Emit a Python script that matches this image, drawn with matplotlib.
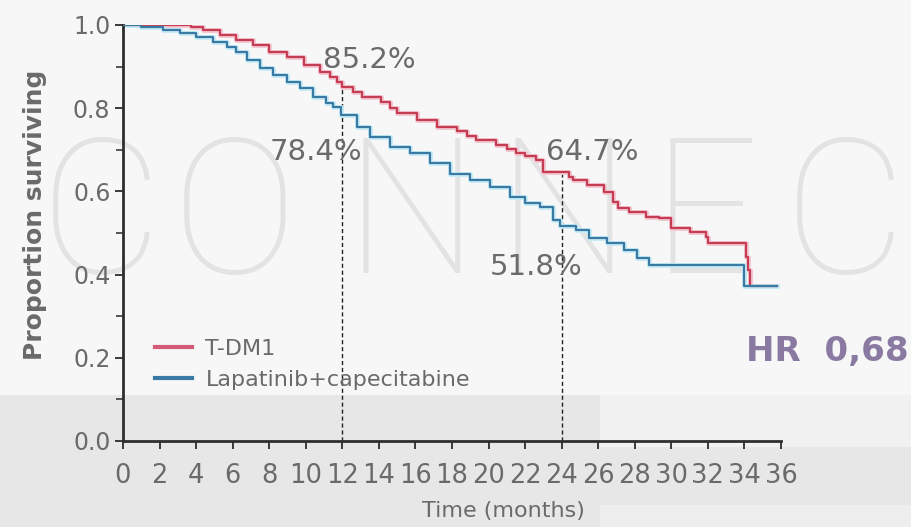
import matplotlib
matplotlib.use("Agg")
import matplotlib.pyplot as plt
from matplotlib.patches import Rectangle
from matplotlib.lines import Line2D

# Kaplan-Meier estimates (step-post), months vs proportion surviving
tdm1_time = [0.0, 3.7, 4.4, 5.3, 6.2, 7.1, 8.0, 9.0, 9.9, 10.8, 11.3, 11.7, 12.0,
             12.6, 13.1, 14.1, 14.6, 15.0, 16.1, 17.2, 18.3, 18.8, 19.3, 20.4,
             21.0, 21.5, 22.0, 22.6, 23.0, 24.4, 24.6, 25.4, 26.3, 26.8, 27.1,
             27.7, 28.6, 29.3, 30.0, 31.0, 31.9, 32.0, 34.1, 34.2, 34.3, 35.8]
tdm1_surv = [1.000, 0.994, 0.988, 0.976, 0.964, 0.952, 0.936, 0.924, 0.904, 0.888,
             0.876, 0.864, 0.852, 0.840, 0.828, 0.816, 0.800, 0.788, 0.772, 0.756,
             0.744, 0.733, 0.724, 0.712, 0.702, 0.692, 0.684, 0.675, 0.647, 0.635,
             0.627, 0.615, 0.599, 0.575, 0.560, 0.551, 0.539, 0.536, 0.512, 0.503,
             0.491, 0.476, 0.443, 0.411, 0.373, 0.373]

lapcap_time = [0.0, 1.0, 2.2, 3.1, 4.0, 4.9, 5.7, 6.2, 6.8, 7.5, 8.2, 8.95, 9.7,
               10.4, 11.1, 11.5, 11.9, 12.8, 13.5, 14.6, 15.7, 16.8, 17.9, 19.0,
               20.1, 21.2, 22.0, 22.8, 23.5, 23.9, 24.8, 25.5, 26.5, 27.4, 28.1,
               28.8, 34.0, 35.8]
lapcap_surv = [1.000, 0.996, 0.988, 0.980, 0.972, 0.960, 0.948, 0.936, 0.916, 0.897,
               0.880, 0.864, 0.848, 0.828, 0.812, 0.804, 0.784, 0.756, 0.731, 0.707,
               0.692, 0.668, 0.643, 0.627, 0.611, 0.587, 0.573, 0.563, 0.531, 0.518,
               0.507, 0.487, 0.475, 0.459, 0.439, 0.423, 0.373, 0.373]

# Landmark survival rates
landmark_months = [12, 24]
tdm1_landmark = [0.852, 0.647]
lapcap_landmark = [0.784, 0.518]

series_labels = ["T-DM1", "Lapatinib+capecitabine"]
x_ticks = list(range(0, 37, 2))
y_ticks = [0.0, 0.2, 0.4, 0.6, 0.8, 1.0]
hazard_ratio = "HR  0,68"

RED = "#c63c52"
BLUE = "#3b79a5"
GREY_TXT = "#6a6a6a"

W, H = 912, 527
fig = plt.figure(figsize=(W / 100, H / 100), dpi=100, facecolor="#f7f7f7")

# background: grey band at the bottom and a faint logotype
bg = fig.add_axes([0, 0, 1, 1], zorder=-10)
bg.set_xlim(0, W)
bg.set_ylim(0, H)
bg.axis("off")
bg.add_patch(Rectangle((0, 0), 600, H - 395, color="#e7e7e7", lw=0))
bg.add_patch(Rectangle((600, H - 505), W - 600, 505 - 447, color="#e7e7e7", lw=0))
bg.add_patch(Rectangle((600, 0), W - 600, H - 505, color="#eeeeee", lw=0))
bg.add_patch(Rectangle((600, H - 447), W - 600, 447 - 395, color="#f1f1f1", lw=0))
for ch, xl in zip("CONNEC", [40, 172, 345, 497, 652, 784]):
    bg.text(xl, H - 273, ch, fontsize=136, family=["Roboto", "DejaVu Sans"],
            fontweight="light", color="#e3e3e3", ha="left", va="baseline")

ax = fig.add_axes([123 / W, 1 - 441 / H, (781 - 123) / W, (441 - 25) / H])
ax.patch.set_alpha(0)

# soft halo under each curve, then the curves
ax.step(tdm1_time, tdm1_surv, where="post", color="#f2c9d3", lw=3.6, zorder=2)
ax.step(lapcap_time, lapcap_surv, where="post", color="#c8ecf5", lw=3.6, zorder=2)
ax.step(tdm1_time, tdm1_surv, where="post", color=RED, lw=1.6, zorder=3)
ax.step(lapcap_time, lapcap_surv, where="post", color=BLUE, lw=1.6, zorder=4)

# dashed landmark lines
for m, v in zip(landmark_months, tdm1_landmark):
    ax.vlines(m, 0, v, colors="#222222", linestyles=(0, (3, 2)), lw=1.0, zorder=1)

pct_font = dict(fontsize=21, color=GREY_TXT, ha="center", va="baseline")
ax.text(13.45, 0.897, f"{tdm1_landmark[0] * 100:.1f}%", **pct_font)
ax.text(10.55, 0.675, f"{lapcap_landmark[0] * 100:.1f}%", **pct_font)
ax.text(25.7, 0.675, f"{tdm1_landmark[1] * 100:.1f}%", **pct_font)
ax.text(22.6, 0.399, f"{lapcap_landmark[1] * 100:.1f}%", **pct_font)

ax.set_xlim(0, 36)
ax.set_ylim(0, 1.0)
ax.set_xticks(x_ticks)
ax.set_xticklabels([str(t) for t in x_ticks], fontsize=18.5)
ax.set_yticks(y_ticks)
ax.set_yticklabels([f"{t:.1f}" for t in y_ticks], fontsize=17)
ax.set_yticks([0.1, 0.3, 0.5, 0.7, 0.9], minor=True)
for s in ["top", "right"]:
    ax.spines[s].set_visible(False)
for s in ["left", "bottom"]:
    ax.spines[s].set_color("#2e2e2e")
    ax.spines[s].set_linewidth(2.0)
ax.tick_params(axis="both", which="major", length=6, width=1.4, color="#3a3a3a",
               labelcolor=GREY_TXT)
ax.tick_params(axis="y", which="minor", length=5, width=1.2, color="#3a3a3a")
ax.tick_params(axis="x", pad=10)
ax.tick_params(axis="y", pad=3)

handles = [Line2D([], [], color="#d35a78", lw=3),
           Line2D([], [], color=BLUE, lw=3)]
leg = ax.legend(handles, series_labels, loc="upper left",
                bbox_to_anchor=(0.0486, 0.245), frameon=False, fontsize=16,
                handlelength=1.67, handletextpad=0.6, labelspacing=0.5,
                borderaxespad=0, borderpad=0)
for t in leg.get_texts():
    t.set_color(GREY_TXT)

fig.text(35 / W, 1 - 215 / H, "Proportion surviving", rotation=90, fontsize=18,
         fontweight="bold", color=GREY_TXT, ha="center", va="center")
fig.text(503 / W, 1 - 511 / H, "Time (months)", fontsize=16, color=GREY_TXT,
         ha="center", va="center")
fig.text(746 / W, 1 - 352 / H, hazard_ratio, fontsize=24.5, fontweight="bold",
         color="#8a7aa2", ha="left", va="center")

fig.savefig("out.png", dpi=100, facecolor=fig.get_facecolor())
